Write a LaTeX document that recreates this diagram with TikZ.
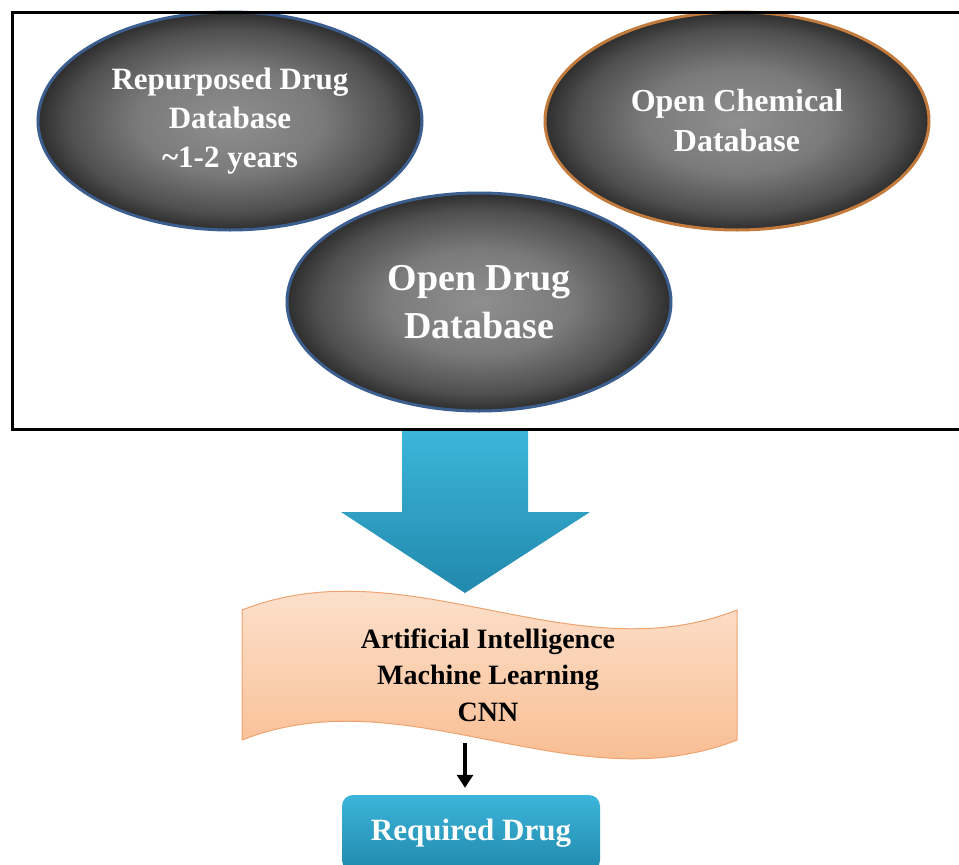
\documentclass[tikz,border=0pt]{standalone}
\usepackage{fontspec}
\setmainfont{Liberation Serif}
\usetikzlibrary{shapes.geometric,arrows.meta}
\definecolor{edgeblue}{HTML}{3B5E8E}
\definecolor{edgeorange}{HTML}{C27B3C}
\definecolor{arrtop}{HTML}{3CB5DA}
\definecolor{arrbot}{HTML}{2189AC}
\definecolor{peachtop}{HTML}{FDE9DA}
\definecolor{peachbot}{HTML}{F8B585}
\definecolor{peachedge}{HTML}{EFA370}
\pgfdeclareradialshading{dbshade}{\pgfpoint{0bp}{0bp}}{%
  rgb(0bp)=(0.56,0.56,0.56);
  rgb(12bp)=(0.48,0.48,0.48);
  rgb(21bp)=(0.31,0.31,0.31);
  rgb(25bp)=(0.18,0.18,0.18);
  rgb(50bp)=(0.18,0.18,0.18)}
\begin{document}
\begin{tikzpicture}[x=1pt,y=-1pt,
  dbase/.style={ellipse, minimum width=384pt, minimum height=218pt,
    shading=dbshade, draw=edgeblue, line width=3pt,
    text=white, align=center, font=\bfseries},
  bigarrow/.style={top color=arrtop, bottom color=arrbot, draw=none},
  banner/.style={top color=peachtop, bottom color=peachbot, draw=peachedge, line width=1pt},
  reqbox/.style={rectangle, rounded corners=11pt, minimum width=258pt, minimum height=76pt,
    top color=arrtop, bottom color=arrbot, draw=none, text=white,
    font=\fontsize{31}{36}\selectfont\bfseries},
  smallarrow/.style={-{Triangle[length=13pt,width=16pt]}, line width=3.5pt, black}]
\useasboundingbox (0,0) rectangle (959,865);
\clip (0,0) rectangle (959,865);
\fill[white] (0,0) rectangle (959,865);
% ellipses
\node[dbase, font=\fontsize{31}{39}\selectfont\bfseries] (rep) at (230,121)
  {Repurposed Drug\\Database\\\textasciitilde1-2 years};
\node[dbase, draw=edgeorange, font=\fontsize{32}{40}\selectfont\bfseries] (chem) at (737,121)
  {Open Chemical\\Database};
\node[dbase, font=\fontsize{38}{48}\selectfont\bfseries] (odrug) at (479,302)
  {Open Drug\\Database};
% outer frame
\draw[line width=3pt] (12,12) rectangle (990,429);
% big arrow
\path[bigarrow] (402,431) -- (528,431) -- (528,512) -- (590,512) -- (465,593)
  -- (341,512) -- (402,512) -- cycle;
% banner
\path[banner] (242,610) .. controls (407,545) and (572,675) .. (737,610)
  -- (737,740) .. controls (572,805) and (407,675) .. (242,740) -- cycle;
\node[align=center, font=\fontsize{28}{36.5}\selectfont\bfseries] (ai) at (488,675)
  {Artificial Intelligence\\Machine Learning\\CNN};
% required drug
\node[reqbox] (req) at (471,833) {Required Drug};
\coordinate (astart) at (465,743);
\draw[smallarrow, shorten >=7pt] (astart) -- (req.north -| astart);
\end{tikzpicture}
\end{document}
